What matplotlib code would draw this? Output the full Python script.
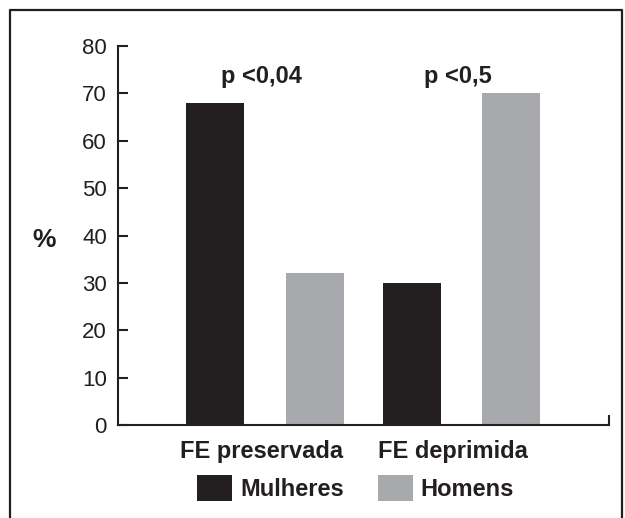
import matplotlib
matplotlib.use("Agg")
import matplotlib.pyplot as plt
import matplotlib.transforms as mtransforms
from matplotlib.lines import Line2D
from matplotlib.patches import Patch
import numpy as np

plt.rcParams['font.family'] = ['Liberation Sans', 'DejaVu Sans']

categories = ["FE preservada", "FE deprimida"]
mulheres = [68, 30]
homens = [32, 70]
p_labels = ["p <0,04", "p <0,5"]
yticks = [0, 10, 20, 30, 40, 50, 60, 70, 80]

DARK = "#231f20"
GRAY = "#a7a9ac"

fig = plt.figure(figsize=(6.25, 5.18), dpi=100)
ax = fig.add_axes([0.1888, 0.1795, 0.7856, 0.7317])

x = np.arange(len(categories))
w = 0.295
off = 0.254
ax.bar(x - off, mulheres, w, color=DARK, label="Mulheres")
ax.bar(x + off, homens, w, color=GRAY, label="Homens")

ax.set_xlim(-0.748, 1.751)
ax.set_ylim(0, 80)
ax.set_yticks(yticks)
ax.tick_params(axis='y', direction='in', length=7, width=1.5, colors=DARK,
               labelsize=16, pad=8, labelcolor=DARK)
ax.set_xticks(x)
ax.set_xticklabels(categories, fontsize=17, fontweight='bold', color=DARK)
ax.tick_params(axis='x', length=0, pad=11)
ax.set_xticks([1.751], minor=True)
ax.tick_params(axis='x', which='minor', direction='in', length=7, width=1.5, colors=DARK)

# slight horizontal nudges of the category labels (in points)
for lbl, dx in zip(ax.get_xticklabels(), [-2.5, -6.0]):
    lbl.set_transform(lbl.get_transform() +
                      mtransforms.ScaledTranslation(dx / 72, 0, fig.dpi_scale_trans))

for s in ['top', 'right']:
    ax.spines[s].set_visible(False)
for s in ['left', 'bottom']:
    ax.spines[s].set_linewidth(1.5)
    ax.spines[s].set_color(DARK)

for xi, lab in zip(x, p_labels):
    ax.text(xi - 0.02, 72.2, lab, ha='center', va='baseline', fontsize=17,
            fontweight='bold', color=DARK)

fig.text(44 / 625, 1 - 240 / 518, "%", ha='center', va='center', fontsize=19,
         fontweight='bold', color=DARK)

handles = [Patch(facecolor=DARK), Patch(facecolor=GRAY)]
fig.legend(handles, ["Mulheres", "Homens"], loc='center', ncol=2,
           bbox_to_anchor=(0.569, 0.058), frameon=False,
           prop={'weight': 'bold', 'size': 17},
           handlelength=1.48, handleheight=1.3, handletextpad=0.33,
           columnspacing=1.45, labelcolor=DARK)

# outer frame (left, top, right)
fx0, fx1 = 9.5 / 625, 622 / 625
fy = 1 - 9.5 / 518
fig.add_artist(Line2D([fx0, fx0, fx1, fx1], [0, fy, fy, 0], color=DARK,
                      lw=1.6, transform=fig.transFigure))

fig.savefig("out.png", dpi=100)
